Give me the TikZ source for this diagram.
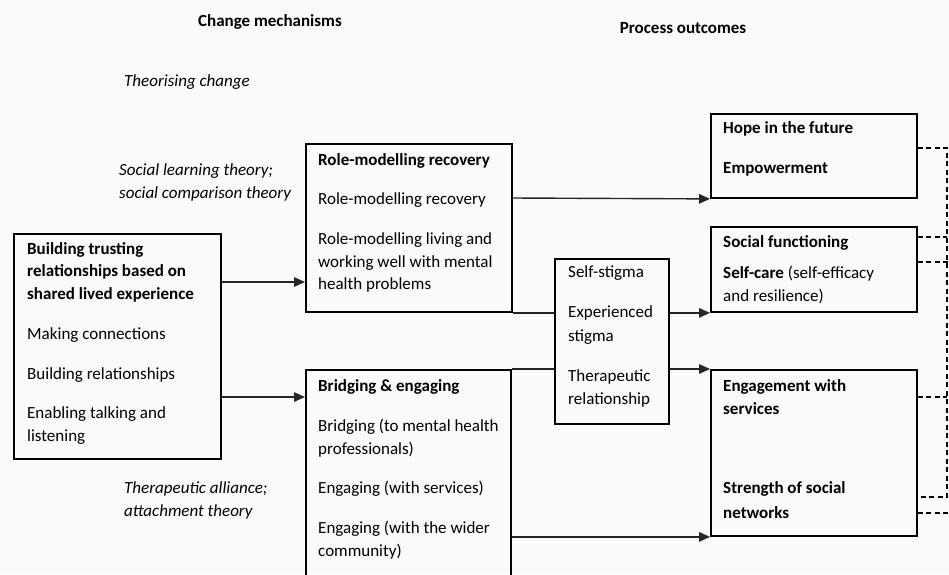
\documentclass[tikz,border=0pt]{standalone}
\usepackage{fontspec}
\setmainfont{Carlito}
\usetikzlibrary{arrows.meta}
\begin{document}
\begin{tikzpicture}[x=1pt,y=-1pt,
  every node/.style={font=\fontsize{17}{22}\selectfont},
  box/.style={draw, line width=1.9pt, inner sep=0pt, anchor=north west},
  txt/.style={anchor=west, inner sep=0pt},
  btxt/.style={anchor=west, inner sep=0pt, font=\fontsize{17}{22}\selectfont\bfseries},
  head/.style={inner sep=0pt, font=\fontsize{17}{22}\selectfont\bfseries},
  theory/.style={anchor=west, inner sep=0pt, align=left, font=\fontsize{17}{23}\selectfont\itshape},
  arr/.style={line width=1.4pt, draw=black!85, -{Triangle[length=11pt,width=9.5pt]}},
  link/.style={line width=1.4pt, draw=black!85},
  fb/.style={line width=1.5pt, dash pattern=on 5pt off 3.5pt}]
\fill[black!2] (0,0) rectangle (949,574);
\useasboundingbox (0,0) rectangle (949,574);
\clip (0,0) rectangle (949,574);

% column headings and theory labels
\node[head] (hmech) at (270,22) {Change mechanisms};
\node[head] (hproc) at (683,28) {Process outcomes};
\node[theory] (tchange) at (124,82) {Theorising change};
\node[theory] (tsocial) at (119,182) {Social learning theory;\\social comparison theory};
\node[theory] (tther) at (124,500) {Therapeutic alliance;\\attachment theory};

% boxes
\node[box, minimum width=207pt, minimum height=225pt] (trust) at (13,233) {};
\node[box, minimum width=206pt, minimum height=168pt] (role) at (305,143) {};
\node[box, minimum width=205pt, minimum height=240pt] (bridge) at (305,369) {};
\node[box, minimum width=114pt, minimum height=165pt] (mid) at (554,258) {};
\node[box, minimum width=206pt, minimum height=84pt] (hope) at (710,113) {};
\node[box, minimum width=206pt, minimum height=85pt] (social) at (710,226) {};
\node[box, minimum width=206pt, minimum height=166pt] (engage) at (710,369) {};

% box texts
\node[btxt] (t1) at (27,250) {Building trusting};
\node[btxt] (t2) at (27,272) {relationships based on};
\node[btxt] (t3) at (27,295) {shared lived experience};
\node[txt] (t4) at (27,335) {Making connections};
\node[txt] (t5) at (27,375) {Building relationships};
\node[txt] (t6) at (27,414) {Enabling talking and};
\node[txt] (t7) at (27,437) {listening};

\node[btxt] (r1) at (318,161) {Role-modelling recovery};
\node[txt] (r2) at (318,200) {Role-modelling recovery};
\node[txt] (r3) at (318,240) {Role-modelling living and};
\node[txt] (r4) at (318,263) {working well with mental};
\node[txt] (r5) at (318,285) {health problems};

\node[btxt] (b1) at (318,387) {Bridging \& engaging};
\node[txt] (b2) at (318,427) {Bridging (to mental health};
\node[txt] (b3) at (318,450) {professionals)};
\node[txt] (b4) at (318,489) {Engaging (with services)};
\node[txt] (b5) at (318,529) {Engaging (with the wider};
\node[txt] (b6) at (318,552) {community)};

\node[txt] (m1) at (568,273) {Self-stigma};
\node[txt] (m2) at (568,313) {Experienced};
\node[txt] (m3) at (568,337) {stigma};
\node[txt] (m4) at (568,377) {Therapeutic};
\node[txt] (m5) at (568,400) {relationship};

\node[btxt] (h1) at (723,129) {Hope in the future};
\node[btxt] (h2) at (723,169) {Empowerment};

\node[btxt] (s1) at (723,243) {Social functioning};
\node[txt] (s2) at (723,274) {\textbf{Self-care} (self-efficacy};
\node[txt] (s3) at (723,296) {and resilience)};

\node[btxt] (e1) at (723,387) {Engagement with};
\node[btxt] (e2) at (723,409) {services};
\node[btxt] (e3) at (723,489) {Strength of social};
\node[btxt] (e4) at (723,513) {networks};

% solid connectors
\coordinate (ya) at (0,282);
\coordinate (yb) at (0,397);
\coordinate (yc) at (0,198);
\draw[arr] (trust.east |- ya) -- (role.west |- ya);
\draw[arr] (trust.east |- yb) -- (bridge.west |- yb);
\draw[arr] (role.east |- yc) -- (hope.south west);
\draw[link] (role.south east) -- (mid.west |- role.south east);
\draw[arr] (mid.east |- social.south west) -- (social.south west);
\draw[link] (bridge.north east) -- (mid.west |- bridge.north east);
\draw[arr] (mid.east |- engage.north west) -- (engage.north west);
\draw[arr] (bridge.east |- engage.south west) -- (engage.south west);

% dashed feedback lines
\coordinate (rail) at (947,0);
\coordinate (edge) at (949,0);
\coordinate (fa) at (0,148);
\coordinate (fb1) at (0,237);
\coordinate (fb2) at (0,262);
\coordinate (fc1) at (0,397);
\coordinate (fc2) at (0,497);
\coordinate (fc3) at (0,513);
\draw[fb] (hope.east |- fa) -- (rail |- fa) -- (rail |- fc2) -- (engage.east |- fc2);
\draw[fb] (social.east |- fb1) -- (rail |- fb1);
\draw[fb] (social.east |- fb2) -- (edge |- fb2);
\draw[fb] (engage.east |- fc1) -- (rail |- fc1);
\draw[fb] (engage.east |- fc3) -- (edge |- fc3);
\end{tikzpicture}
\end{document}
